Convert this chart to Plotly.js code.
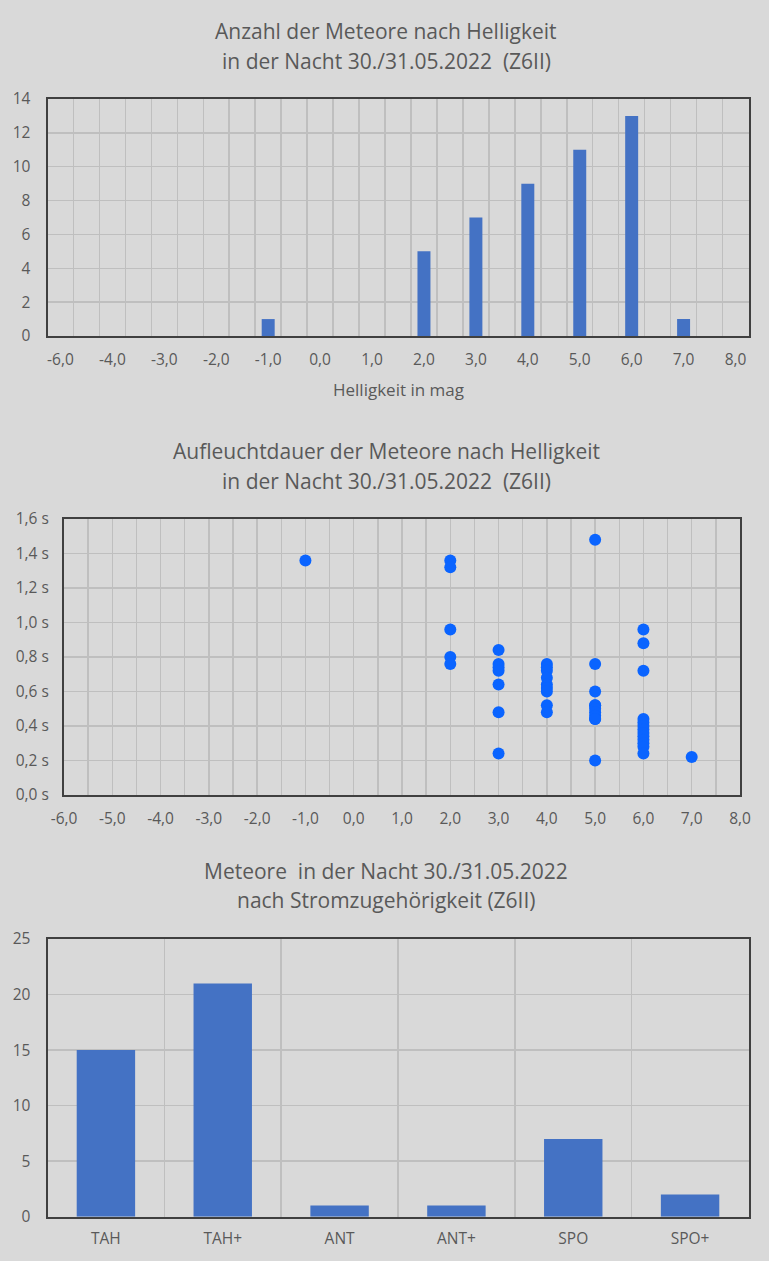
<!DOCTYPE html>
<html>
<head>
<meta charset="utf-8">
<script src="https://cdn.plot.ly/plotly-3.0.1.min.js"></script>
<style>html,body{margin:0;padding:0;background:#d9d9d9;}#chart{width:769px;height:1261px;}</style>
</head>
<body>
<div id="chart"></div>
<script>
// ---- Chart 1: Anzahl der Meteore nach Helligkeit ----
const magValues = [-1, 2, 3, 4, 5, 6, 7];
const magCounts = [1, 5, 7, 9, 11, 13, 1];
const magTickVals = [-5, -4, -3, -2, -1, 0, 1, 2, 3, 4, 5, 6, 7, 8];
const magTickText = ["-6,0", "-4,0", "-3,0", "-2,0", "-1,0", "0,0", "1,0", "2,0", "3,0", "4,0", "5,0", "6,0", "7,0", "8,0"];

// ---- Chart 2: Aufleuchtdauer nach Helligkeit ----
const durMag = [
  -1,
  2, 2, 2, 2, 2,
  3, 3, 3, 3, 3, 3, 3,
  4, 4, 4, 4, 4, 4, 4, 4, 4,
  5, 5, 5, 5, 5, 5, 5, 5, 5, 5, 5,
  6, 6, 6, 6, 6, 6, 6, 6, 6, 6, 6, 6, 6,
  7
];
const durSec = [
  1.36,
  1.36, 1.32, 0.96, 0.80, 0.76,
  0.84, 0.76, 0.74, 0.72, 0.64, 0.48, 0.24,
  0.76, 0.74, 0.72, 0.68, 0.64, 0.62, 0.60, 0.52, 0.48,
  1.48, 0.76, 0.60, 0.52, 0.52, 0.50, 0.48, 0.46, 0.44, 0.44, 0.20,
  0.96, 0.88, 0.72, 0.44, 0.42, 0.40, 0.38, 0.36, 0.34, 0.32, 0.30, 0.28, 0.24,
  0.22
];
const durXTickVals = [-6, -5, -4, -3, -2, -1, 0, 1, 2, 3, 4, 5, 6, 7, 8];
const durXTickText = ["-6,0", "-5,0", "-4,0", "-3,0", "-2,0", "-1,0", "0,0", "1,0", "2,0", "3,0", "4,0", "5,0", "6,0", "7,0", "8,0"];
const durYTickVals = [0, 0.2, 0.4, 0.6, 0.8, 1.0, 1.2, 1.4, 1.6];
const durYTickText = ["0,0 s", "0,2 s", "0,4 s", "0,6 s", "0,8 s", "1,0 s", "1,2 s", "1,4 s", "1,6 s"];

// ---- Chart 3: Stromzugehörigkeit ----
const streams = ["TAH", "TAH+", "ANT", "ANT+", "SPO", "SPO+"];
const streamCounts = [15, 21, 1, 1, 7, 2];

// ---- Layout helpers ----
const W = 769, H = 1261;
const px = v => v / W;
const py = v => 1 - v / H;
const FONT = "Open Sans, DejaVu Sans, sans-serif";
const TXT = "#595959";
const GRID = "#bfbfbf";
const FRAME = "#404040";

function frameAxis(extra) {
  return Object.assign({
    showline: true, mirror: true, linecolor: FRAME, linewidth: 2,
    zeroline: false, gridcolor: GRID, gridwidth: 1.5,
    tickfont: {family: FONT, size: 15.5, color: TXT},
    fixedrange: true
  }, extra);
}

const traces = [
  {type: "bar", x: magValues, y: magCounts, width: 0.25, marker: {color: "#4472c4"},
   xaxis: "x", yaxis: "y", hoverinfo: "skip"},
  {type: "scatter", mode: "markers", x: durMag, y: durSec,
   marker: {color: "#0a64ff", size: 12}, xaxis: "x2", yaxis: "y2", hoverinfo: "skip"},
  {type: "bar", x: streams, y: streamCounts, width: 0.5, marker: {color: "#4472c4"},
   xaxis: "x3", yaxis: "y3", hoverinfo: "skip"}
];

const ann = (text, x, y, size) => ({
  text: text, x: px(x), y: py(y), xref: "paper", yref: "paper",
  xanchor: "center", yanchor: "middle", showarrow: false,
  font: {family: FONT, size: size, color: TXT}
});

const layout = {
  width: W, height: H,
  margin: {l: 0, r: 0, t: 0, b: 0},
  paper_bgcolor: "#d9d9d9", plot_bgcolor: "#d9d9d9",
  showlegend: false,
  xaxis: frameAxis({
    domain: [px(47.5), px(748.5)], anchor: "y",
    range: [-5.25, 8.25], tickmode: "array", tickvals: magTickVals, ticktext: magTickText,
    showgrid: false, ticklabelstandoff: 8,
    minor: {showgrid: true, tick0: -4.75, dtick: 0.5, gridcolor: GRID, gridwidth: 1.5, ticks: ""}
  }),
  yaxis: frameAxis({
    domain: [py(336), py(99)], anchor: "x",
    range: [0, 14], dtick: 2, tick0: 0, ticklabelstandoff: 12
  }),
  xaxis2: frameAxis({
    domain: [px(64), px(740)], anchor: "y2",
    range: [-6, 8], tickmode: "array", tickvals: durXTickVals, ticktext: durXTickText,
    showgrid: true, ticklabelstandoff: 8,
    minor: {showgrid: true, tick0: -5.5, dtick: 1, gridcolor: GRID, gridwidth: 1.5, ticks: ""}
  }),
  yaxis2: frameAxis({
    domain: [py(795), py(519)], anchor: "x2",
    range: [0, 1.6], tickmode: "array", tickvals: durYTickVals, ticktext: durYTickText,
    ticklabelstandoff: 10
  }),
  xaxis3: frameAxis({
    domain: [px(47.5), px(748.5)], anchor: "y3",
    type: "category", categoryorder: "array", categoryarray: streams,
    tickson: "boundaries", showgrid: true, ticklabelstandoff: 7
  }),
  yaxis3: frameAxis({
    domain: [py(1216.7), py(939)], anchor: "x3",
    range: [0, 25], dtick: 5, tick0: 0, ticklabelstandoff: 12
  }),
  annotations: [
    ann("Anzahl der Meteore nach Helligkeit", 386, 31, 21),
    ann("in der Nacht 30./31.05.2022  (Z6II)", 386, 61, 21),
    ann("Helligkeit in mag", 398, 389, 17),
    ann("Aufleuchtdauer der Meteore nach Helligkeit", 386, 451, 21),
    ann("in der Nacht 30./31.05.2022  (Z6II)", 386, 481, 21),
    ann("Meteore  in der Nacht 30./31.05.2022", 386, 871, 21),
    ann("nach Stromzugehörigkeit (Z6II)", 386, 900, 21)
  ]
};

Plotly.newPlot("chart", traces, layout, {staticPlot: true, displayModeBar: false});
</script>
</body>
</html>
